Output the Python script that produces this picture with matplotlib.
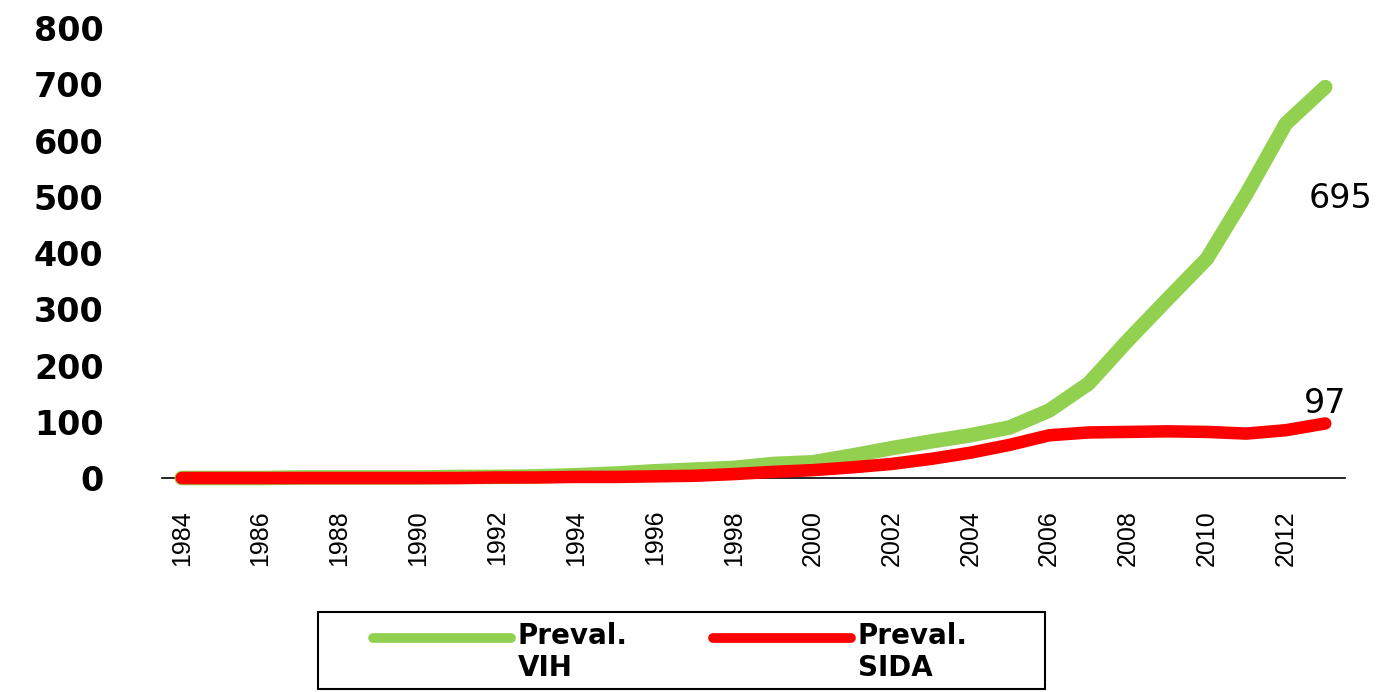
import matplotlib
matplotlib.use('Agg')
import matplotlib.pyplot as plt
from matplotlib.patches import Rectangle

# Data
years = list(range(1984, 2014))
vih = [0, 0, 0, 1, 1, 1, 1, 2, 2, 3, 5, 8, 12, 15, 18, 25, 28, 40, 53, 65,
       76, 90, 120, 168, 245, 318, 390, 505, 630, 695]
sida = [0, 0, 0, 0, 0, 0, 0, 0, 1, 1, 2, 2, 3, 4, 7, 11, 14, 19, 25, 34,
        45, 59, 76, 81, 82, 83, 82, 79, 85, 97]
labels = ['Preval.\nVIH', 'Preval.\nSIDA']
tick_years = years[::2]

GREEN = '#92D050'
RED = '#FF0000'
W, H = 1393, 692

fig = plt.figure(figsize=(W / 100, H / 100), dpi=100)
ax = fig.add_axes([0.1163, 0.3092, 0.8492, 0.6503])

ax.plot(years, vih, color=GREEN, lw=10.5, solid_capstyle='round',
        solid_joinstyle='round', clip_on=False, label=labels[0], zorder=3)
ax.plot(years, sida, color=RED, lw=9, solid_capstyle='round',
        solid_joinstyle='round', clip_on=False, label=labels[1], zorder=4)

ax.set_xlim(years[0] - 0.5, years[-1] + 0.5)
ax.set_ylim(0, 800)
ax.set_yticks(range(0, 801, 100))
ax.set_xticks(tick_years)
ax.set_xticklabels([str(y) for y in tick_years], rotation=90,
                   family='Liberation Sans', fontsize=18)
for t in ax.get_yticklabels():
    t.set_fontweight('bold')
    t.set_fontsize(24)
ax.tick_params(axis='y', length=0, pad=42)
ax.tick_params(axis='x', length=0, pad=23)

for s in ['left', 'right', 'top']:
    ax.spines[s].set_visible(False)
ax.spines['bottom'].set_linewidth(1.2)
ax.spines['bottom'].set_zorder(2)

# end-value labels
ax.annotate(str(vih[-1]), xy=(years[-1], vih[-1]), xytext=(15, -111),
            textcoords='offset pixels', ha='center', va='center', fontsize=24)
ax.annotate(str(sida[-1]), xy=(years[-1], sida[-1]), xytext=(0, 20),
            textcoords='offset pixels', ha='center', va='center', fontsize=24)

# legend (frame drawn separately to match the wide box)
leg = fig.legend(loc='upper left', bbox_to_anchor=(373 / W, 1 - 622 / H), ncol=2,
                 prop={'weight': 'bold', 'size': 20}, frameon=False,
                 handlelength=4.96, columnspacing=3.08, borderpad=0,
                 borderaxespad=0, handletextpad=0.25)
for h in leg.get_lines():
    h.set_linewidth(7)
    h.set_ydata([y + 11 for y in h.get_ydata()])

fig.patches.append(Rectangle((318 / W, 1 - 689 / H), 727 / W, 77 / H,
                             transform=fig.transFigure, fill=False,
                             edgecolor='black', lw=1.5))

fig.savefig('out.png', dpi=100)
